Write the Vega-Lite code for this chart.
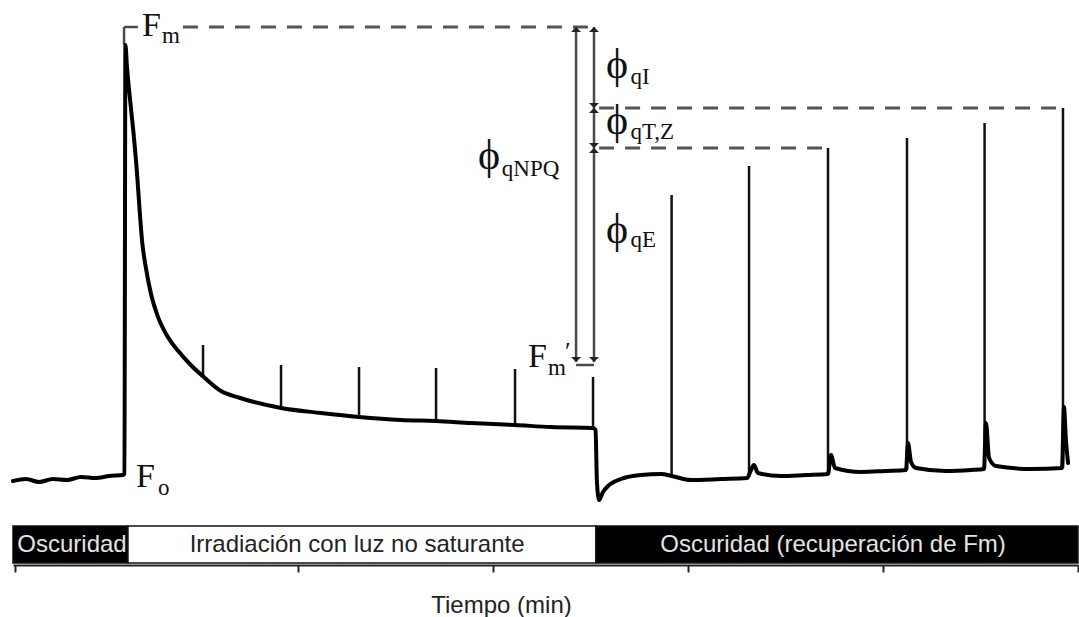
{
  "$schema": "https://vega.github.io/schema/vega-lite/v6.json",
  "width": 1065,
  "height": 565,
  "padding": {"left": 11, "top": 0, "right": 2, "bottom": 0},
  "autosize": {"type": "pad"},
  "background": "white",
  "config": {"view": {"stroke": null}},
  "datasets": {
    "bands": [
      {"t": 5.385, "t2": 11.28, "tm": 8.41, "F": 0.35, "F2": 6.9, "Fm": 3.72, "kind": "oscuro", "label": "Oscuridad"},
      {"t": 11.28, "t2": 35.28, "tm": 23.03, "F": 0.35, "F2": 6.9, "Fm": 3.72, "kind": "luz", "label": "Irradiación con luz no saturante"},
      {"t": 35.28, "t2": 60, "tm": 47.44, "F": 0.35, "F2": 6.9, "Fm": 3.72, "kind": "oscuro", "label": "Oscuridad (recuperación de Fm)"}
    ],
    "trace": [
      {"t": 5.385, "F": 14.87}, {"t": 6.05, "F": 15.22}, {"t": 6.72, "F": 14.69}, {"t": 7.44, "F": 15.22},
      {"t": 8.15, "F": 15.04}, {"t": 8.87, "F": 15.58}, {"t": 9.64, "F": 15.4}, {"t": 10.31, "F": 15.75},
      {"t": 11.03, "F": 15.93}, {"t": 11.1, "F": 16.11}, {"t": 11.15, "F": 92.04}, {"t": 11.23, "F": 88.14},
      {"t": 11.38, "F": 82.65}, {"t": 11.56, "F": 76.64}, {"t": 11.74, "F": 69.56}, {"t": 11.87, "F": 63.2},
      {"t": 12.0, "F": 57.5}, {"t": 12.21, "F": 52.4}, {"t": 12.46, "F": 48.0}, {"t": 12.8, "F": 44.1},
      {"t": 13.25, "F": 40.8}, {"t": 13.85, "F": 37.9}, {"t": 14.5, "F": 35.4}, {"t": 15.13, "F": 33.4},
      {"t": 16.05, "F": 30.8}, {"t": 17.0, "F": 29.6}, {"t": 17.74, "F": 28.85},
      {"t": 19.13, "F": 27.79}, {"t": 21.18, "F": 26.9}, {"t": 23.13, "F": 26.19}, {"t": 25.28, "F": 25.66},
      {"t": 27.08, "F": 25.48}, {"t": 28.87, "F": 25.13}, {"t": 31.13, "F": 24.78}, {"t": 32.97, "F": 24.42},
      {"t": 35.13, "F": 24.25}, {"t": 35.26, "F": 23.89}, {"t": 35.33, "F": 14.69}, {"t": 35.44, "F": 11.5},
      {"t": 35.64, "F": 12.92}, {"t": 35.9, "F": 13.98}, {"t": 36.56, "F": 15.22}, {"t": 37.59, "F": 15.93},
      {"t": 38.62, "F": 16.11}, {"t": 39.18, "F": 15.75}, {"t": 40.15, "F": 15.04}, {"t": 41.69, "F": 15.22},
      {"t": 43.03, "F": 15.4}, {"t": 43.23, "F": 16.81}, {"t": 43.38, "F": 17.7}, {"t": 43.59, "F": 16.28},
      {"t": 44.77, "F": 15.75}, {"t": 46.05, "F": 15.93}, {"t": 47.18, "F": 16.11}, {"t": 47.33, "F": 19.47},
      {"t": 47.54, "F": 17.17}, {"t": 48.87, "F": 16.46}, {"t": 50.15, "F": 16.64}, {"t": 51.18, "F": 16.81},
      {"t": 51.28, "F": 21.59}, {"t": 51.44, "F": 18.23}, {"t": 51.69, "F": 17.17}, {"t": 53.23, "F": 16.64},
      {"t": 54.51, "F": 16.81}, {"t": 55.18, "F": 16.99}, {"t": 55.28, "F": 25.13}, {"t": 55.44, "F": 18.94},
      {"t": 55.79, "F": 17.52}, {"t": 57.59, "F": 16.99}, {"t": 59.18, "F": 17.17}, {"t": 59.28, "F": 27.96},
      {"t": 59.38, "F": 22.12}, {"t": 59.49, "F": 18.05}
    ],
    "pulses": [
      {"t": 15.13, "F": 33.4, "F2": 38.94},
      {"t": 19.13, "F": 27.79, "F2": 35.4},
      {"t": 23.13, "F": 26.19, "F2": 35.04},
      {"t": 27.08, "F": 25.48, "F2": 34.87},
      {"t": 31.13, "F": 24.78, "F2": 34.69},
      {"t": 35.13, "F": 24.25, "F2": 33.27},
      {"t": 39.16, "F": 15.75, "F2": 65.49},
      {"t": 43.13, "F": 15.58, "F2": 70.62},
      {"t": 47.18, "F": 16.11, "F2": 73.81},
      {"t": 51.23, "F": 16.81, "F2": 75.58},
      {"t": 55.21, "F": 16.99, "F2": 78.23},
      {"t": 59.23, "F": 17.17, "F2": 80.88}
    ],
    "dashes": [
      {"t": 14.1, "t2": 35.44, "F": 95.22},
      {"t": 35.44, "t2": 59.23, "F": 80.88},
      {"t": 35.44, "t2": 47.18, "F": 73.81}
    ],
    "guides": [
      {"t": 34.26, "t2": 34.26, "F": 95.22, "F2": 35.93},
      {"t": 35.18, "t2": 35.18, "F": 95.22, "F2": 35.93},
      {"t": 34.26, "t2": 35.18, "F": 35.4, "F2": 35.4},
      {"t": 11.08, "t2": 11.08, "F": 92.04, "F2": 95.22},
      {"t": 11.08, "t2": 11.79, "F": 95.22, "F2": 95.22}
    ],
    "arrowUp": [
      {"t": 34.26, "F": 95.22}, {"t": 35.18, "F": 95.22}, {"t": 35.18, "F": 80.88}, {"t": 35.18, "F": 73.81}
    ],
    "arrowDown": [
      {"t": 35.18, "F": 80.88}, {"t": 35.18, "F": 73.81}, {"t": 34.26, "F": 35.93}, {"t": 35.18, "F": 35.93}
    ],
    "bigF": [
      {"t": 12.0, "F": 93.63, "label": "F"},
      {"t": 11.69, "F": 13.81, "label": "F"},
      {"t": 31.79, "F": 35.04, "label": "F"}
    ],
    "phis": [
      {"t": 35.8, "F": 86.19, "label": "ϕ"},
      {"t": 35.8, "F": 76.28, "label": "ϕ"},
      {"t": 29.23, "F": 70.09, "label": "ϕ"},
      {"t": 35.8, "F": 56.99, "label": "ϕ"}
    ],
    "subs": [
      {"t": 13.03, "F": 92.39, "label": "m"},
      {"t": 12.82, "F": 12.39, "label": "o"},
      {"t": 32.82, "F": 33.63, "label": "m"},
      {"t": 37.05, "F": 85.13, "label": "qI"},
      {"t": 37.05, "F": 75.4, "label": "qT,Z"},
      {"t": 30.45, "F": 68.85, "label": "qNPQ"},
      {"t": 37.05, "F": 56.28, "label": "qE"}
    ],
    "primes": [
      {"t": 33.69, "F": 36.3, "label": "′"}
    ]
  },
  "encoding": {
    "x": {
      "field": "t", "type": "quantitative",
      "scale": {"domain": [5.385, 60], "nice": false, "zero": false},
      "axis": {
        "values": [5.5, 20, 30, 40, 50, 60],
        "labels": false, "grid": false,
        "domainColor": "#222", "domainWidth": 2,
        "tickColor": "#222", "tickWidth": 2, "tickSize": 7,
        "title": "Tiempo (min)", "titleFont": "Liberation Sans", "titleFontSize": 24,
        "titleFontWeight": "normal", "titleColor": "#222",
        "titleX": 488, "titleY": 47, "titleBaseline": "alphabetic", "titleAlign": "center"
      }
    },
    "y": {
      "field": "F", "type": "quantitative",
      "scale": {"domain": [0, 100], "nice": false, "zero": false},
      "axis": null
    }
  },
  "layer": [
    {
      "data": {"name": "bands"},
      "mark": {"type": "rect", "stroke": "#111", "strokeWidth": 1.5},
      "encoding": {
        "x2": {"field": "t2"},
        "y2": {"field": "F2"},
        "fill": {"condition": {"test": "datum.kind === 'luz'", "value": "white"}, "value": "black"}
      }
    },
    {
      "data": {"name": "bands"},
      "mark": {"type": "text", "font": "Liberation Sans", "fontSize": 24, "baseline": "middle", "align": "center", "dy": 1},
      "encoding": {
        "x": {"field": "tm", "type": "quantitative"},
        "y": {"field": "Fm", "type": "quantitative"},
        "text": {"field": "label"},
        "fill": {"condition": {"test": "datum.kind === 'luz'", "value": "#222"}, "value": "#e4e4e4"}
      }
    },
    {
      "data": {"name": "dashes"},
      "mark": {"type": "rule", "color": "#555", "strokeWidth": 3, "strokeDash": [15, 11]},
      "encoding": {"x2": {"field": "t2"}}
    },
    {
      "data": {"name": "guides"},
      "mark": {"type": "rule", "color": "#4a4a4a", "strokeWidth": 2.5},
      "encoding": {"x2": {"field": "t2"}, "y2": {"field": "F2"}}
    },
    {
      "data": {"name": "pulses"},
      "mark": {"type": "rule", "color": "#111", "strokeWidth": 2.5},
      "encoding": {"y2": {"field": "F2"}}
    },
    {
      "data": {"name": "trace"},
      "mark": {"type": "line", "color": "#000", "strokeWidth": 4, "strokeJoin": "round", "strokeCap": "round", "interpolate": "monotone"},
      "encoding": {}
    },
    {
      "data": {"name": "arrowUp"},
      "mark": {"type": "point", "shape": "M0,0L-1,1L1,1Z", "filled": true, "size": 100, "color": "#222", "opacity": 1},
      "encoding": {}
    },
    {
      "data": {"name": "arrowDown"},
      "mark": {"type": "point", "shape": "M0,0L-1,-1L1,-1Z", "filled": true, "size": 100, "color": "#222", "opacity": 1},
      "encoding": {}
    },
    {
      "data": {"name": "bigF"},
      "mark": {"type": "text", "font": "Liberation Serif", "fontSize": 34, "align": "left", "baseline": "alphabetic", "color": "#111"},
      "encoding": {"text": {"field": "label"}}
    },
    {
      "data": {"name": "phis"},
      "mark": {"type": "text", "font": "Liberation Serif", "fontSize": 42, "align": "left", "baseline": "alphabetic", "color": "#111"},
      "encoding": {"text": {"field": "label"}}
    },
    {
      "data": {"name": "subs"},
      "mark": {"type": "text", "font": "Liberation Serif", "fontSize": 23, "align": "left", "baseline": "alphabetic", "color": "#111"},
      "encoding": {"text": {"field": "label"}}
    },
    {
      "data": {"name": "primes"},
      "mark": {"type": "text", "font": "Liberation Serif", "fontSize": 26, "align": "left", "baseline": "alphabetic", "color": "#111"},
      "encoding": {"text": {"field": "label"}}
    }
  ]
}
